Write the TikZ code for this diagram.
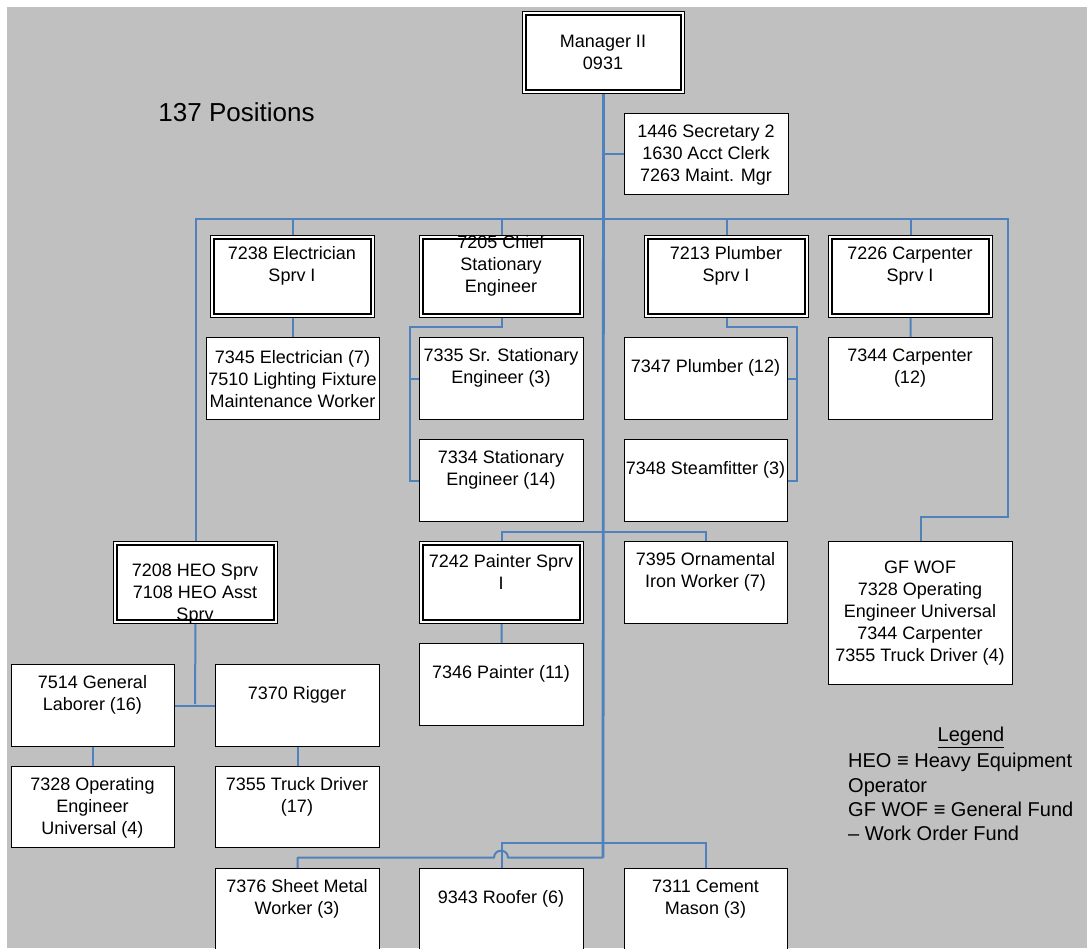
\documentclass[tikz,border=0pt]{standalone}
\usepackage{fontspec}
\setmainfont{Liberation Sans}
\usetikzlibrary{calc}
\definecolor{bggray}{RGB}{192,192,192}
\definecolor{cblue}{RGB}{79,129,189}
\begin{document}
\begin{tikzpicture}[x=1pt,y=-1pt,
  conn/.style={draw=cblue, line width=2pt},
  trunk/.style={draw=cblue, line width=2.8pt},
  sbox/.style={draw=black, line width=1.3pt, fill=white, inner sep=0pt, anchor=north west},
  dbox/.style={draw=black, line width=1pt, fill=white, inner sep=0pt, anchor=north west},
  inbox/.style={draw=black, line width=1.4pt},
  lbl/.style={align=center, inner sep=0pt, yshift=-1.8pt, font=\fontsize{18}{22}\selectfont},
  leg/.style={inner sep=0pt, font=\fontsize{20}{24.3}\selectfont},
]
\useasboundingbox (0,0) rectangle (1087,948);
\clip (0,0) rectangle (1087,948);
\fill[white] (0,0) rectangle (1087,948);
\fill[bggray] (7,7) rectangle (1087,948);

% double boxes
\node[dbox, minimum width=162pt, minimum height=82pt] (mgr) at (522,11) {};
\node[dbox, minimum width=164pt, minimum height=82pt] (elecS) at (210,235) {};
\node[dbox, minimum width=164pt, minimum height=82pt] (chief) at (419,235) {};
\node[dbox, minimum width=164pt, minimum height=82pt] (plumbS) at (644,235) {};
\node[dbox, minimum width=164pt, minimum height=82pt] (carpS) at (828,235) {};
\node[dbox, minimum width=164pt, minimum height=82pt] (heo) at (113,541) {};
\node[dbox, minimum width=164pt, minimum height=82pt] (paintS) at (419,541) {};
\foreach \n in {mgr,elecS,chief,plumbS,carpS,heo,paintS}
  \draw[inbox] ([shift={(4pt,-4pt)}]\n.north west) rectangle ([shift={(-4pt,4pt)}]\n.south east);

% single boxes
\node[sbox, minimum width=164pt, minimum height=81pt] (sec) at (624,113) {};
\node[sbox, minimum width=173pt, minimum height=82pt] (el7345) at (206,337) {};
\node[sbox, minimum width=164pt, minimum height=82pt] (srst) at (419,337) {};
\node[sbox, minimum width=164pt, minimum height=82pt] (st) at (419,439) {};
\node[sbox, minimum width=163pt, minimum height=82pt] (plumb) at (624,337) {};
\node[sbox, minimum width=163pt, minimum height=82pt] (steam) at (624,439) {};
\node[sbox, minimum width=164pt, minimum height=82pt] (carp) at (828,337) {};
\node[sbox, minimum width=163pt, minimum height=82pt] (orn) at (624,541) {};
\node[sbox, minimum width=184pt, minimum height=143pt] (gfwof) at (828,541) {};
\node[sbox, minimum width=164pt, minimum height=82pt] (paint) at (419,643) {};
\node[sbox, minimum width=163pt, minimum height=82pt] (lab) at (11,664) {};
\node[sbox, minimum width=164pt, minimum height=82pt] (rig) at (215,664) {};
\node[sbox, minimum width=163pt, minimum height=81pt] (openg) at (11,766) {};
\node[sbox, minimum width=164pt, minimum height=81pt] (truck) at (215,766) {};
\node[sbox, minimum width=164pt, minimum height=100pt] (sheet) at (215,868) {};
\node[sbox, minimum width=164pt, minimum height=100pt] (roof) at (419,868) {};
\node[sbox, minimum width=163pt, minimum height=100pt] (cement) at (624,868) {};

% texts
\node[lbl] (mgr-t) at (603,50.6) {Manager II\\0931};
\node[lbl] (sec-t) at (706,153) {1446 Secretary 2\\1630 Acct Clerk\\7263 Maint. Mgr};
\node[lbl] (elecS-t) at (292,264) {7238 Electrician\\Sprv I};
\node[lbl] (chief-t) at (501,264) {7205 Chief\\Stationary\\Engineer};
\node[lbl] (plumbS-t) at (726,264) {7213 Plumber\\Sprv I};
\node[lbl] (carpS-t) at (910,264) {7226 Carpenter\\Sprv I};
\node[lbl] (el7345-t) at (292.5,377) {7345 Electrician (7)\\7510 Lighting Fixture\\Maintenance Worker};
\node[lbl] (srst-t) at (501,366) {7335 Sr. Stationary\\Engineer (3)};
\node[lbl] (st-t) at (501,468) {7334 Stationary\\Engineer (14)};
\node[lbl] (plumb-t) at (705.5,366) {7347 Plumber (12)};
\node[lbl] (steam-t) at (705.5,468) {7348 Steamfitter (3)};
\node[lbl] (carp-t) at (910,366) {7344 Carpenter\\(12)};
\node[lbl] (heo-t) at (195,592) {7208 HEO Sprv\\7108 HEO Asst\\Sprv};
\node[lbl] (paintS-t) at (501,570) {7242 Painter Sprv\\I};
\node[lbl] (orn-t) at (705.5,570) {7395 Ornamental\\Iron Worker (7)};
\node[lbl] (gfwof-t) at (920,611) {GF WOF\\7328 Operating\\Engineer Universal\\7344 Carpenter\\7355 Truck Driver (4)};
\node[lbl] (paint-t) at (501,672) {7346 Painter (11)};
\node[lbl] (lab-t) at (92.5,693) {7514 General\\Laborer (16)};
\node[lbl] (rig-t) at (297,693) {7370 Rigger};
\node[lbl] (openg-t) at (92.5,806) {7328 Operating\\Engineer\\Universal (4)};
\node[lbl] (truck-t) at (297,795) {7355 Truck Driver\\(17)};
\node[lbl] (sheet-t) at (297,897) {7376 Sheet Metal\\Worker (3)};
\node[lbl] (roof-t) at (501,897) {9343 Roofer (6)};
\node[lbl] (cement-t) at (705.5,897) {7311 Cement\\Mason (3)};

\node[inner sep=0pt, font=\fontsize{26}{30}\selectfont] (pos) at (236.5,112) {137 Positions};

\node[leg] (legT) at (971,737.5) {\underline{Legend}};
\node[leg, align=left, anchor=west] (legB) at (848,797) {HEO ≡ Heavy Equipment\\Operator\\GF WOF ≡ General Fund\\– Work Order Fund};

% connectors
\coordinate (busR) at (1008,219);
\coordinate (gj) at (1008,517);
\coordinate (tb) at (603,857.7);
\coordinate (cj) at (410,327);
\coordinate (pj) at (797,327);
\coordinate (pb) at (603,531.7);
\coordinate (hj) at (195,704);
\coordinate (bb) at (603,843.3);

\draw[trunk] (mgr.south) -- (tb);
\draw[conn] (mgr.south |- sec.west) -- (sec.west);
\draw[conn] (heo.north) |- (busR) -- (gj) -| (gfwof.north);
\foreach \n in {elecS,chief,plumbS,carpS}
  \draw[conn] (\n.north) -- (\n.north |- busR);
\draw[conn] (elecS.south) -- (elecS.south |- el7345.north);
\draw[conn] (chief.south) |- (cj) |- (st.west);
\draw[conn] (cj |- srst.west) -- (srst.west);
\draw[conn] (plumbS.south) |- (pj) |- (steam.east);
\draw[conn] (pj |- plumb.east) -- (plumb.east);
\draw[conn] (carpS.south) -- (carp.north);
\draw[conn] (paintS.north) |- (pb) -| (orn.north);
\draw[conn] (paintS.south) -- (paint.north);
\draw[conn] (heo.south) -- (hj);
\draw[conn] (lab.east) -- (rig.west);
\draw[conn] (lab.south) -- (openg.north);
\draw[conn] (rig.south) -- (truck.north);
\draw[conn] (roof.north) |- (bb) -| (cement.north);
\draw[conn, line join=round] (tb) -- (508,857.7) .. controls (508,848.4) and (494,848.4) .. (494,857.7) -| (sheet.north);
\end{tikzpicture}
\end{document}
